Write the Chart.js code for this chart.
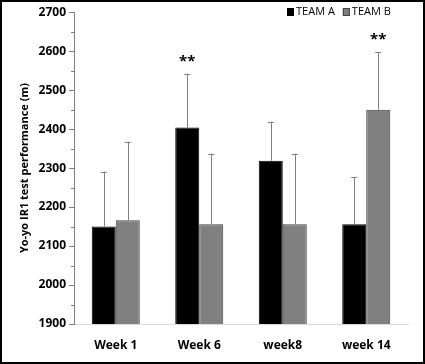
<!DOCTYPE html>
<html>
<head>
<meta charset="utf-8">
<script src="https://cdn.jsdelivr.net/npm/chart.js@4.4.1/dist/chart.umd.min.js"></script>
<style>
    body { margin: 0; background: #fff; }
    .frame {
        width: 425px;
        height: 364px;
        border: 2px solid #000;
        box-sizing: border-box;
        position: relative;
    }
</style>
</head>
<body>
<div class="frame"><canvas id="barChart"></canvas></div>
<script>
// Data
const weeks = ['Week 1', 'Week 6', 'week8', 'week 14'];
const teamA = [2150, 2404, 2319, 2156];
const teamB = [2166, 2156, 2156, 2450];
const sdA = [141, 138, 100, 120];
const sdB = [202, 181, 181, 148];
const sigA = ['', '**', '', ''];
const sigB = ['', '', '', '**'];
const yMin = 1900;
const yMax = 2700;
const yStep = 100;

const FONT = '"Open Sans", Lato, sans-serif';

document.addEventListener('DOMContentLoaded', function () {

    // Error bars (upward only) and significance stars
    const errorBarPlugin = {
        id: 'errorBars',
        afterDatasetsDraw(chart) {
            const ctx = chart.ctx;
            const yScale = chart.scales.y;
            chart.data.datasets.forEach((ds, di) => {
                const meta = chart.getDatasetMeta(di);
                meta.data.forEach((bar, i) => {
                    const top = yScale.getPixelForValue(ds.data[i] + ds.sd[i]);
                    ctx.save();
                    ctx.strokeStyle = '#808080';
                    ctx.lineWidth = 1;
                    ctx.beginPath();
                    ctx.moveTo(Math.round(bar.x) + 0.5, bar.y);
                    ctx.lineTo(Math.round(bar.x) + 0.5, top);
                    ctx.moveTo(bar.x - 3, Math.round(top) + 0.5);
                    ctx.lineTo(bar.x + 3, Math.round(top) + 0.5);
                    ctx.stroke();
                    if (ds.sig[i]) {
                        ctx.fillStyle = '#000';
                        ctx.font = 'bold 15px ' + FONT;
                        ctx.textAlign = 'center';
                        ctx.textBaseline = 'middle';
                        ctx.fillText(ds.sig[i], bar.x, top - 12);
                    }
                    ctx.restore();
                });
            });
        }
    };

    // Small legend in the top right corner
    const legendPlugin = {
        id: 'cornerLegend',
        afterDraw(chart) {
            const ctx = chart.ctx;
            let x = 285;
            const y = 10;
            ctx.save();
            ctx.font = '11px ' + FONT;
            ctx.textBaseline = 'middle';
            chart.data.datasets.forEach(ds => {
                ctx.fillStyle = ds.backgroundColor;
                ctx.fillRect(x, y - 4, 7, 8);
                ctx.strokeStyle = ds.borderColor;
                ctx.lineWidth = 1;
                ctx.strokeRect(x + 0.5, y - 3.5, 6, 7);
                ctx.fillStyle = '#000';
                ctx.fillText(ds.label, x + 9, y);
                x += 9 + ctx.measureText(ds.label).width + 8;
            });
            ctx.restore();
        }
    };

    // Minor ticks between the labelled ones
    const minorTickPlugin = {
        id: 'minorTicks',
        afterDraw(chart) {
            const ctx = chart.ctx;
            const yScale = chart.scales.y;
            const xLine = chart.chartArea.left;
            ctx.save();
            ctx.strokeStyle = '#808080';
            ctx.lineWidth = 1;
            ctx.beginPath();
            for (let v = yMin + yStep / 2; v < yMax; v += yStep) {
                const py = Math.round(yScale.getPixelForValue(v)) + 0.5;
                ctx.moveTo(xLine - 3, py);
                ctx.lineTo(xLine, py);
            }
            ctx.stroke();
            ctx.restore();
        }
    };

    const ctx = document.getElementById('barChart').getContext('2d');
    new Chart(ctx, {
        type: 'bar',
        data: {
            labels: weeks,
            datasets: [{
                label: 'TEAM A',
                data: teamA,
                sd: sdA,
                sig: sigA,
                backgroundColor: '#000000',
                borderColor: '#000000',
                borderWidth: 1
            }, {
                label: 'TEAM B',
                data: teamB,
                sd: sdB,
                sig: sigB,
                backgroundColor: '#808080',
                borderColor: '#404040',
                borderWidth: 1
            }]
        },
        options: {
            responsive: true,
            maintainAspectRatio: false,
            animation: false,
            categoryPercentage: 0.575,
            barPercentage: 1.0,
            layout: {
                padding: { top: 9, right: 15, left: 0, bottom: 0 }
            },
            plugins: {
                legend: { display: false },
                tooltip: { enabled: false }
            },
            scales: {
                x: {
                    grid: { display: false },
                    border: { display: true, color: '#d9d9d9', width: 1 },
                    ticks: {
                        color: '#000',
                        padding: 6,
                        font: { family: FONT, size: 12, weight: 'bold' }
                    },
                    afterFit(scale) { scale.height = 38; }
                },
                y: {
                    min: yMin,
                    max: yMax,
                    grid: {
                        display: true,
                        drawOnChartArea: false,
                        tickLength: 5,
                        color: '#808080'
                    },
                    border: { display: true, color: '#808080', width: 1 },
                    ticks: {
                        stepSize: yStep,
                        color: '#000',
                        padding: 3,
                        font: { family: FONT, size: 12, weight: 'bold' },
                        callback: value => String(value)
                    },
                    title: {
                        display: true,
                        text: 'Yo-yo IR1 test performance (m)',
                        color: '#000',
                        padding: { top: 16, bottom: 0 },
                        font: { family: FONT, size: 11, weight: 'bold' }
                    },
                    afterFit(scale) { scale.width = 72; }
                }
            }
        },
        plugins: [errorBarPlugin, legendPlugin, minorTickPlugin]
    });
});
</script>
</body>
</html>
